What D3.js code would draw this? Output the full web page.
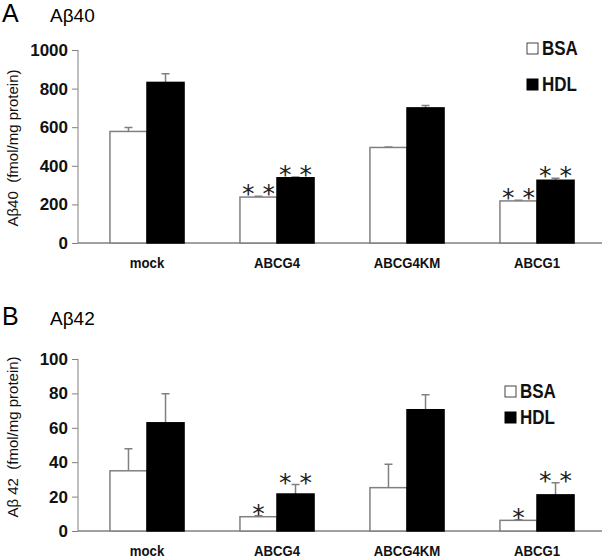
<!DOCTYPE html>
<html><head><meta charset="utf-8">
<script src="https://cdn.jsdelivr.net/npm/d3@7"></script>
<style>
body{margin:0;background:#fff;}
svg{display:block;}
</style></head>
<body><svg id="c" width="605" height="560"></svg>
<script>
const categories = ["mock", "ABCG4", "ABCG4KM", "ABCG1"];
const series = ["BSA", "HDL"];
// Panel A: Aβ40
const a40BSA = [578, 238, 495, 218];
const a40BSAerr = [20, 4, 3, 4];
const a40HDL = [832, 338, 700, 325];
const a40HDLerr = [45, 4, 12, 10];
const a40BSAsig = ["", "**", "", "**"];
const a40HDLsig = ["", "**", "", "**"];
const a40Ticks = [0, 200, 400, 600, 800, 1000];
// Panel B: Aβ42
const a42BSA = [35, 8.3, 25.2, 6.2];
const a42BSAerr = [12.8, 0.6, 13.6, 0.4];
const a42HDL = [62.9, 21.5, 70.5, 21];
const a42HDLerr = [16.9, 5.5, 8.7, 7.1];
const a42BSAsig = ["", "*", "", "*"];
const a42HDLsig = ["", "**", "", "**"];
const a42Ticks = [0, 20, 40, 60, 80, 100];

const svg = d3.select("#c");
const grey = "#808080";
const x = d3.scaleBand().domain(categories).range([82, 602]).paddingInner(0.43).paddingOuter(0.215);
const xs = d3.scaleBand().domain(series).range([0, x.bandwidth()]);

function panel(cfg) {
  const g = svg.append("g");
  const y = d3.scaleLinear().domain([0, cfg.max]).range([cfg.y0, cfg.y1]);
  g.append("text").attr("x", 2).attr("y", cfg.titleY).attr("font-family", "Liberation Sans, Arial, sans-serif")
    .attr("font-size", 25).text(cfg.letter);
  g.append("text").attr("x", 50).attr("y", cfg.titleY).attr("font-family", "Liberation Sans, Arial, sans-serif")
    .attr("font-size", 19).text(cfg.title);
  const ax = g.append("g").attr("transform", "translate(78,0)")
    .call(d3.axisLeft(y).tickValues(cfg.ticks).tickFormat(d3.format("d")).tickSize(6).tickPadding(4));
  ax.select(".domain").attr("stroke", grey).attr("d", `M-0,${cfg.y0}V${cfg.y1}`);
  ax.selectAll(".tick line").attr("stroke", grey);
  ax.selectAll(".tick text").attr("font-family", "Liberation Sans, Arial, sans-serif")
    .attr("font-size", 17).attr("font-weight", "bold").attr("fill", "#111");
  g.append("line").attr("x1", 78).attr("x2", 602).attr("y1", cfg.y0).attr("y2", cfg.y0).attr("stroke", grey).attr("stroke-width", 1.5);
  g.selectAll(".cat").data(categories).join("text")
    .attr("transform", d => `translate(${x(d) + x.bandwidth() / 2},${cfg.catY}) scale(0.88,1)`)
    .attr("text-anchor", "middle").attr("font-family", "Liberation Sans, Arial, sans-serif")
    .attr("font-size", 15).attr("font-weight", "bold").attr("fill", "#111").text(d => d);
  g.append("text").attr("transform", `translate(18,${cfg.labelY}) rotate(-90)`)
    .attr("text-anchor", "middle").attr("font-family", "Liberation Sans, Arial, sans-serif")
    .attr("font-size", 15).attr("fill", "#111").attr("xml:space", "preserve").text(cfg.ylabel);
  const data = [];
  categories.forEach((c, i) => {
    data.push({c, s: "BSA", v: cfg.bsa[i], e: cfg.bsaErr[i], sig: cfg.bsaSig[i]});
    data.push({c, s: "HDL", v: cfg.hdl[i], e: cfg.hdlErr[i], sig: cfg.hdlSig[i]});
  });
  const bx = d => x(d.c) + xs(d.s);
  g.selectAll(".eb").data(data).join("path")
    .attr("d", d => {
      const cx = bx(d) + xs.bandwidth() / 2;
      return `M${cx},${y(d.v)}V${y(d.v + d.e)}M${cx - 4},${y(d.v + d.e)}H${cx + 4}`;
    }).attr("stroke", grey).attr("stroke-width", 1.5).attr("fill", "none");
  g.selectAll(".bar").data(data).join("rect")
    .attr("x", bx).attr("width", xs.bandwidth())
    .attr("y", d => y(d.v)).attr("height", d => cfg.y0 - y(d.v))
    .attr("fill", d => d.s === "BSA" ? "#fff" : "#000")
    .attr("stroke", d => d.s === "BSA" ? grey : "#000").attr("stroke-width", 1.5);
  g.selectAll(".sig").data(data.filter(d => d.sig)).join("text")
    .attr("x", d => bx(d) + xs.bandwidth() / 2).attr("y", d => y(d.v + d.e) + 6)
    .attr("text-anchor", "middle").attr("font-family", "DejaVu Sans, sans-serif")
    .attr("font-size", 25).attr("fill", "#222").attr("xml:space", "preserve")
    .text(d => d.sig.split("").join(" "));
  const lg = g.append("g");
  series.forEach((s, i) => {
    const ly = cfg.legY + i * cfg.legGap;
    lg.append("rect").attr("x", cfg.legX).attr("y", ly - 12).attr("width", 11).attr("height", 11)
      .attr("fill", s === "BSA" ? "#fff" : "#000").attr("stroke", s === "BSA" ? "#444" : "#000").attr("stroke-width", 1);
    lg.append("text").attr("transform", `translate(${cfg.legX + 15},${ly}) scale(0.85,1)`)
      .attr("font-family", "Liberation Sans, Arial, sans-serif")
      .attr("font-size", 20).attr("font-weight", "bold").attr("fill", "#111").text(s);
  });
}

panel({letter: "A", title: "Aβ40", titleY: 22, max: 1000, y0: 243, y1: 50, ticks: a40Ticks,
  catY: 268, labelY: 148, ylabel: "Aβ40  (fmol/mg protein)",
  bsa: a40BSA, bsaErr: a40BSAerr, hdl: a40HDL, hdlErr: a40HDLerr, bsaSig: a40BSAsig, hdlSig: a40HDLsig,
  legX: 527, legY: 55, legGap: 36});
panel({letter: "B", title: "Aβ42", titleY: 325, max: 100, y0: 531, y1: 359, ticks: a42Ticks,
  catY: 556, labelY: 437, ylabel: "Aβ 42  (fmol/mg protein)",
  bsa: a42BSA, bsaErr: a42BSAerr, hdl: a42HDL, hdlErr: a42HDLerr, bsaSig: a42BSAsig, hdlSig: a42HDLsig,
  legX: 505, legY: 398, legGap: 26});
</script></body></html>
